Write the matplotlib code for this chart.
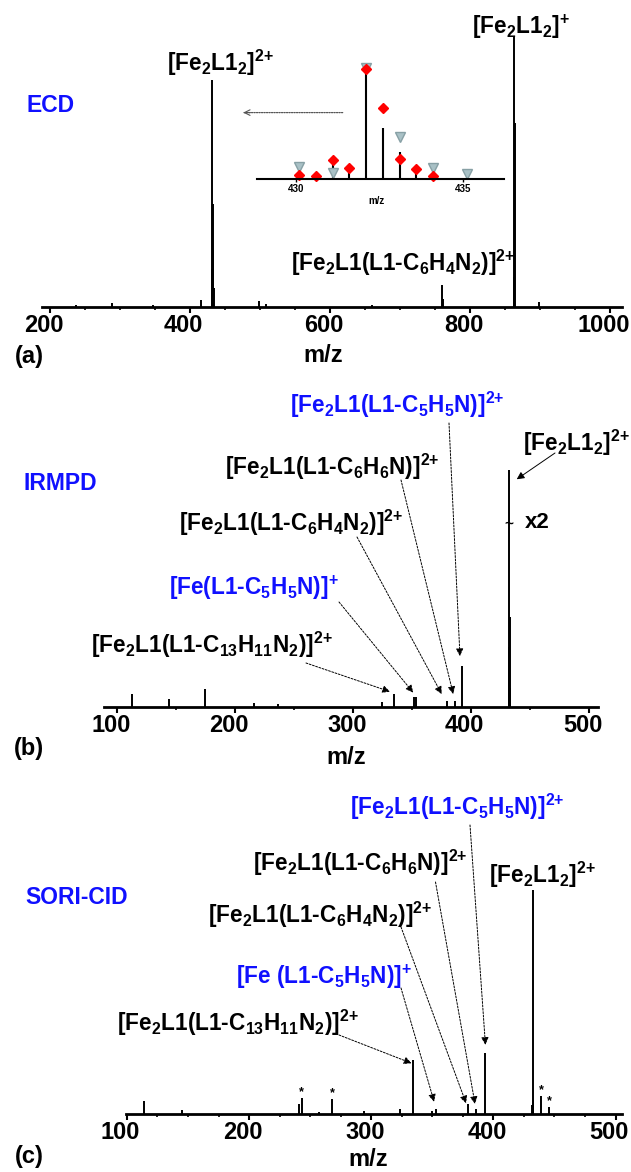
import matplotlib
matplotlib.use("Agg")
import matplotlib.pyplot as plt
from matplotlib.ticker import MultipleLocator
from matplotlib.transforms import ScaledTranslation

W, H = 631, 1172
BLUE = "#1010ff"

plt.rcParams["font.family"] = ["Liberation Sans", "DejaVu Sans"]
plt.rcParams["font.weight"] = "bold"
plt.rcParams["mathtext.default"] = "regular"

# ---- (a) ECD spectrum (relative intensity, %)
ecd_mz = [237, 289, 347, 415, 431.1, 431.6, 432.1, 432.6, 433.1, 433.6,
          498, 509, 660, 760, 760.5, 862, 863, 864, 897.6]
ecd_int = [0.7, 1.5, 0.7, 2.6, 14, 10, 84, 38, 21, 7,
           2.2, 1.1, 0.7, 8.1, 3, 11, 100, 68, 1.9]

# inset: isotope pattern of [Fe2L1_2]2+
iso_mz = [430.1, 430.6, 431.1, 431.6, 432.1, 432.6, 433.1, 433.6, 434.1]
iso_int = [0.9, 0.9, 16.9, 11.8, 100, 45.3, 24.5, 8.3, 3.6]
calc2_int = [3.8, 3.3, 17.2, 10, 98, 63, 18.3, 9.2, 3]
calc1_mz = [430.1, 431.1, 432.1, 433.1, 434.1, 435.1]
calc1_int = [11.2, 5.9, 98.5, 37.9, 9.8, 4.7]

# ---- (b) IRMPD spectrum
irmpd_mz = [112.7, 143.6, 174.3, 215.8, 236, 324, 334.5, 351.2, 353.1,
            379, 386.2, 392.1, 431.7, 432.2, 432.7, 433.2]
irmpd_int = [5.6, 3.4, 7.7, 1.7, 1.3, 2.1, 5.5, 4.5, 4.5,
             2.7, 2.7, 17.6, 25.3, 100, 38, 8]

# ---- (c) SORI-CID spectrum
sori_mz = [113.9, 145, 241, 243, 257, 268, 293.7, 323.7, 334, 350, 353,
           379, 386, 392.9, 431.7, 432.2, 432.7, 439.3, 445.8]
sori_int = [5.9, 1.7, 4.5, 7.1, 0.9, 6.7, 1.3, 2.5, 24.1, 1.3, 2.5,
            4.8, 2.2, 27.4, 4, 100, 6.3, 8.2, 3.3]
star_mz = [243, 268, 439.3, 445.8]

# "{+}" keeps mathtext from spacing the charge sign like a binary operator
ION_12_2 = r"[Fe$_2$L1$_2$]$^{2{+}}$"
ION_12_1 = r"[Fe$_2$L1$_2$]$^{{+}}$"
ION_C6H4N2 = r"[Fe$_2$L1(L1-C$_6$H$_4$N$_2$)]$^{2{+}}$"
ION_C6H6N = r"[Fe$_2$L1(L1-C$_6$H$_6$N)]$^{2{+}}$"
ION_C5H5N = r"[Fe$_2$L1(L1-C$_5$H$_5$N)]$^{2{+}}$"
ION_C13 = r"[Fe$_2$L1(L1-C$_{13}$H$_{11}$N$_2$)]$^{2{+}}$"


def rect(l, t, r, b):
    return [l / W, 1 - b / H, (r - l) / W, (b - t) / H]


def fpx(x, y):
    return (x / W, 1 - y / H)


def label(x, y, s, size=16.3, color="k"):
    fig.text(x / W, 1 - y / H, s, ha="center", va="center", fontsize=size, color=color)


def arrow(ax, tip, start):
    ax.annotate("", xy=tip, xycoords="data", xytext=fpx(*start), textcoords="figure fraction",
                arrowprops=dict(arrowstyle="-|>", lw=0.7, ls=(0, (2, 1.5)), color="k",
                                shrinkA=0, shrinkB=0, mutation_scale=11))


def style_axis(ax, major, minor):
    for s in ["left", "top", "right"]:
        ax.spines[s].set_visible(False)
    ax.spines["bottom"].set_linewidth(2)
    ax.set_yticks([])
    ax.xaxis.set_major_locator(MultipleLocator(major))
    ax.xaxis.set_minor_locator(MultipleLocator(minor))
    ax.tick_params(axis="x", which="major", direction="out", length=4, width=1.5, pad=1, labelsize=17)
    ax.tick_params(axis="x", which="minor", direction="out", length=2.5, width=1.2)


fig = plt.figure(figsize=(W / 100, H / 100), dpi=100)

# ---------------- (a)
ax_a = fig.add_axes(rect(41.5, 20, 621.5, 307))
ax_a.vlines(ecd_mz, 0, ecd_int, color="k", lw=1.4)
ax_a.set_xlim(188, 1016)
ax_a.set_ylim(0, 106.3)
style_axis(ax_a, 200, 50)

label(220, 63, ION_12_2)
label(521, 27, ION_12_1)
label(403, 263, ION_C6H4N2)
label(51, 106, "ECD", size=16.5, color=BLUE)
label(29, 356, "(a)", size=17)
label(323, 355, "m/z", size=17)

# dotted arrow pointing from the inset to the parent peak
ax_a.annotate("", xy=(476, 72), xytext=(618, 72),
              arrowprops=dict(arrowstyle="-", lw=0.9, ls=(0, (1, 1)), color="#555555",
                              shrinkA=0, shrinkB=0))
ax_a.annotate("", xy=(476, 72), xytext=(486, 72),
              arrowprops=dict(arrowstyle="->", lw=0.8, color="#555555",
                              shrinkA=0, shrinkB=0, mutation_scale=10))

# inset
ax_i = fig.add_axes(rect(256.7, 55, 504, 179.3))
ax_i.vlines(iso_mz, 0, iso_int, color="k", lw=1.5)
ax_i.plot(calc1_mz, calc1_int, "v", ms=7, mfc="#a9c1c6", mec="#87a0a5", mew=1, ls="none", clip_on=False)
ax_i.plot(iso_mz, calc2_int, "D", ms=5.5, color="#ff0000", ls="none", clip_on=False)
ax_i.set_xlim(428.84, 436.21)
ax_i.set_ylim(0, 110.4)
ax_i.patch.set_alpha(0)
for s in ["left", "top", "right"]:
    ax_i.spines[s].set_visible(False)
ax_i.spines["bottom"].set_linewidth(1.5)
ax_i.set_yticks([])
ax_i.set_xticks([430, 435])
ax_i.tick_params(axis="x", length=2, width=1, pad=1.5, labelsize=7)
label(376, 201, "m/z", size=7)

# ---------------- (b)
ax_b = fig.add_axes(rect(104, 420, 598, 707.3))
ax_b.vlines(irmpd_mz, 0, irmpd_int, color="k", lw=1.4)
ax_b.set_xlim(88.7, 507.4)
ax_b.set_ylim(0, 121.2)
style_axis(ax_b, 100, 50)

label(397, 405, ION_C5H5N, color=BLUE)
label(576, 443, ION_12_2)
label(332, 467, ION_C6H6N)
label(291, 523, ION_C6H4N2)
label(254, 588, r"[Fe(L1-C$_5$H$_5$N)]$^{{+}}$", color=BLUE)
label(212, 645, ION_C13)
label(60, 483, "IRMPD", size=16.5, color=BLUE)
label(537, 523, "x2", size=16)
label(29, 749, "(b)", size=17)
label(346, 757, "m/z", size=17)
ax_b.text(432.2, 77.3, "~", ha="center", va="center", fontsize=11)

arrow(ax_b, (390.4, 21.6), (449, 423))
arrow(ax_b, (384.7, 5.6), (401, 480))
arrow(ax_b, (374.9, 5.6), (357, 537))
arrow(ax_b, (350.8, 6.2), (339, 602))
arrow(ax_b, (331.1, 6.6), (306, 663))
ax_b.annotate("", xy=(438.5, 96.2), xytext=fpx(555, 453), textcoords="figure fraction",
              arrowprops=dict(arrowstyle="-|>", lw=0.7, color="k", shrinkA=0, shrinkB=0,
                              mutation_scale=11))

# ---------------- (c)
ax_c = fig.add_axes(rect(126.2, 780, 621.5, 1114.3))
ax_c.vlines(sori_mz, 0, sori_int, color="k", lw=1.4)
ax_c.set_xlim(99.4, 504.9)
ax_c.set_ylim(0, 149.2)
style_axis(ax_c, 100, 25)

for mz in star_mz:
    h = sori_int[sori_mz.index(mz)]
    ax_c.annotate("*", xy=(mz, h), xytext=(0, 0), textcoords="offset points",
                  ha="center", va="bottom", fontsize=9)

label(457, 807, ION_C5H5N, color=BLUE)
label(360, 863, ION_C6H6N)
label(542, 875, ION_12_2)
label(320, 915, ION_C6H4N2)
label(324, 977, r"[Fe (L1-C$_5$H$_5$N)]$^{{+}}$", color=BLUE)
label(238, 1023, ION_C13)
label(77, 898, "SORI-CID", size=16.5, color=BLUE)
label(29, 1157, "(c)", size=17)
label(368, 1160, "m/z", size=17)

arrow(ax_c, (393.5, 31), (470, 825))
arrow(ax_c, (385, 4.6), (435.5, 882))
arrow(ax_c, (377.7, 4.9), (401, 927))
arrow(ax_c, (351.5, 5.6), (401, 988))
arrow(ax_c, (333, 22.8), (339, 1035))

# tick labels in the original sit a few pixels left of their ticks
fig.canvas.draw()
shift = ScaledTranslation(-6.5 / 100, 0, fig.dpi_scale_trans)
for ax in (ax_a, ax_b, ax_c):
    for lab in ax.get_xticklabels():
        lab.set_transform(lab.get_transform() + shift)

fig.savefig("out.png", dpi=100)
